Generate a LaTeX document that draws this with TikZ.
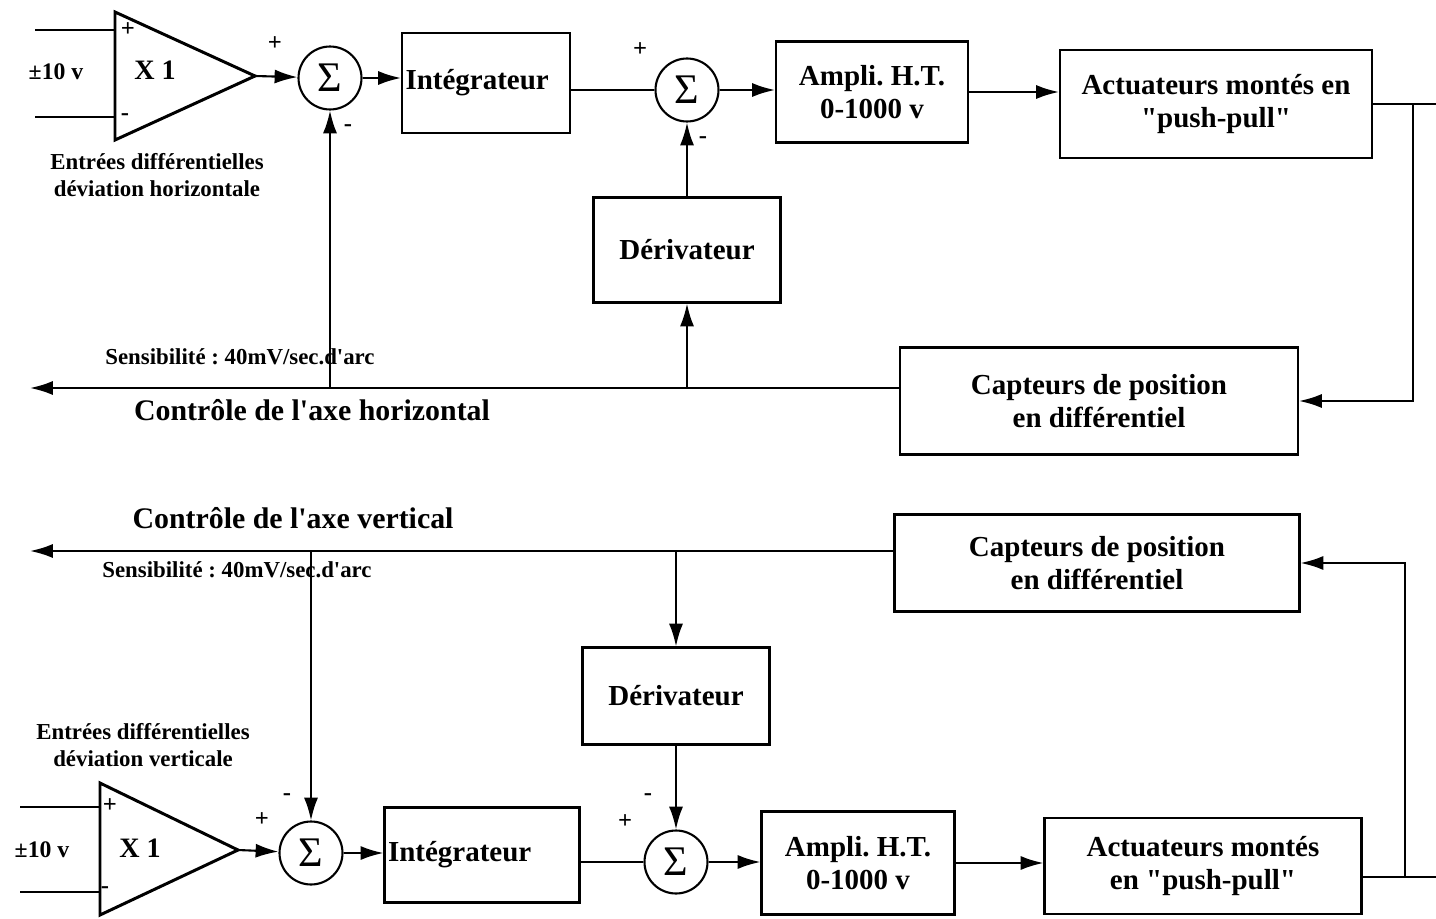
\documentclass[tikz,border=0pt]{standalone}
\usepackage{fontspec}
\setmainfont{Liberation Serif}
\usetikzlibrary{positioning, arrows.meta, calc}
\tikzset{
  block/.style={draw, line width=1.2pt, align=center, inner sep=2pt,
    font=\fontsize{16.5}{18.5}\selectfont\bfseries},
  sumnode/.style={draw, circle, line width=1.2pt, minimum size=1.26cm, inner sep=0pt,
    font=\fontsize{24}{24}\selectfont},
  sig/.style={-{Latex[length=13pt, width=8pt]}, line width=1.2pt},
  wire/.style={line width=1.2pt},
  ampli/.style={line width=1.7pt, line join=miter},
  sgn/.style={font=\fontsize{14}{14}\selectfont\bfseries, inner sep=0pt},
  note/.style={font=\fontsize{13}{15}\selectfont\bfseries, align=center, inner sep=0pt},
  axis/.style={font=\fontsize{17}{19}\selectfont\bfseries, inner sep=0pt},
  gain/.style={font=\fontsize{16}{16}\selectfont\bfseries, inner sep=0pt},
}
\newcommand{\qq}{\textquotedbl}
\newcommand{\ap}{\textquotesingle}
\frenchspacing
\begin{document}
\begin{tikzpicture}[x=0.02cm, y=-0.02cm]
  \useasboundingbox (0,0) rectangle (1436,919);

  % === Horizontal axis: main chain ===
  \coordinate (amp1p) at (115,30);
  \coordinate (amp1n) at (115,117);
  \coordinate (amp1out) at (255,76);
  \coordinate (in1p) at (35,30);
  \coordinate (in1n) at (35,117);
  \draw[ampli] (115,12) -- (amp1out) -- (115,140) -- cycle;
  \node[gain] (gain1) at (155,70) {X 1};
  \node[sgn, font=\fontsize{13.5}{14}\selectfont\bfseries] (v1) at (56,72) {±10 v};

  \node[sumnode] (sum1) at (330,78) {Σ};
  \node[block, minimum width=3.36cm, minimum height=2cm, text width=3.22cm, align=left] (integ1) at (486,83) {Intégrateur};
  \node[sumnode] (sum2) at (687,90) {Σ};
  \node[block, minimum width=3.84cm, minimum height=2.02cm] (ampliht1) at (872,92) {Ampli. H.T.\\0-1000 v};
  \node[block, minimum width=6.24cm, minimum height=2.16cm] (act1) at (1216,104) {Actuateurs montés en\\\qq push-pull\qq};
  \node[block, minimum width=3.74cm, minimum height=2.1cm] (deriv1) at (687,250) {Dérivateur};
  \node[block, minimum width=7.96cm, minimum height=2.14cm] (capt1) at (1099,401) {Capteurs de position\\en différentiel};

  \coordinate (out1) at (1436,104);
  \coordinate (br1) at (1413,104);
  \coordinate (fb1) at (30,388);

  % arrows of the chain
  \draw[wire] (in1p) -- (amp1p);
  \draw[wire] (in1n) -- (amp1n);
  \draw[sig] (amp1out) -- (sum1);
  \draw[sig] (sum1.east) -- (sum1.east -| integ1.west);
  \draw[wire] (integ1.east |- sum2) -- (sum2);
  \draw[sig] (sum2.east) -- (sum2.east -| ampliht1.west);
  \draw[sig] (ampliht1.east) -- (ampliht1.east -| act1.west);
  \draw[wire] (act1.east) -- (out1);
  \draw[sig] (br1) |- (capt1.east);
  \draw[sig] (capt1.west |- fb1) -- (fb1);
  \draw[sig] (sum1 |- fb1) -- (sum1);
  \draw[sig] (deriv1 |- fb1) -- (deriv1);
  \draw[sig] (deriv1) -- (sum2);

  % signs and labels
  \node[sgn] at (128,30) {+};
  \node[sgn] at (125,117) {-};
  \node[sgn] at (275,44) {+};
  \node[sgn] at (348,128) {-};
  \node[sgn] at (640,50) {+};
  \node[sgn] at (703,140) {-};
  \node[note] (in1lbl) at (157,175) {Entrées différentielles\\déviation horizontale};
  \node[note] (sens1) at (240,357) {Sensibilité : 40mV/sec.d\ap arc};
  \node[axis] (axe1) at (312,410) {Contrôle de l\ap axe horizontal};

  % === Vertical axis: main chain ===
  \coordinate (amp2p) at (100,807);
  \coordinate (amp2n) at (100,892);
  \coordinate (amp2out) at (238,850);
  \coordinate (in2p) at (20,807);
  \coordinate (in2n) at (20,892);
  \draw[ampli] (100,783) -- (amp2out) -- (100,915) -- cycle;
  \node[gain] (gain2) at (140,848) {X 1};
  \node[sgn, font=\fontsize{13.5}{14}\selectfont\bfseries] (v2) at (42,850) {±10 v};

  \node[sumnode] (sum3) at (311,853) {Σ};
  \node[block, minimum width=3.9cm, minimum height=1.9cm, text width=3.76cm, align=left] (integ2) at (482,855) {Intégrateur};
  \node[sumnode] (sum4) at (676,862) {Σ};
  \node[block, minimum width=3.86cm, minimum height=2.06cm] (ampliht2) at (858,863) {Ampli. H.T.\\0-1000 v};
  \node[block, minimum width=6.34cm, minimum height=1.92cm] (act2) at (1203,866) {Actuateurs montés\\en \qq push-pull\qq};
  \node[block, minimum width=3.74cm, minimum height=1.94cm] (deriv2) at (676,696) {Dérivateur};
  \node[block, minimum width=8.1cm, minimum height=1.94cm] (capt2) at (1097,563) {Capteurs de position\\en différentiel};

  \coordinate (out2) at (1436,877);
  \coordinate (br2) at (1405,877);
  \coordinate (fb2) at (30,551);

  % arrows of the chain
  \draw[wire] (in2p) -- (amp2p);
  \draw[wire] (in2n) -- (amp2n);
  \draw[sig] (amp2out) -- (sum3);
  \draw[sig] (sum3.east) -- (sum3.east -| integ2.west);
  \draw[wire] (integ2.east |- sum4) -- (sum4);
  \draw[sig] (sum4.east) -- (sum4.east -| ampliht2.west);
  \draw[sig] (ampliht2.east) -- (ampliht2.east -| act2.west);
  \draw[wire] (act2.east |- out2) -- (out2);
  \draw[sig] (br2) |- (capt2.east);
  \draw[sig] (capt2.west |- fb2) -- (fb2);
  \draw[sig] (sum3 |- fb2) -- (sum3);
  \draw[sig] (deriv2 |- fb2) -- (deriv2);
  \draw[sig] (deriv2) -- (sum4);

  % signs and labels
  \node[sgn] at (110,806) {+};
  \node[sgn] at (105,890) {-};
  \node[sgn] at (262,820) {+};
  \node[sgn] at (287,797) {-};
  \node[sgn] at (625,822) {+};
  \node[sgn] at (648,797) {-};
  \node[note] (in2lbl) at (143,745) {Entrées différentielles\\déviation verticale};
  \node[note] (sens2) at (237,570) {Sensibilité : 40mV/sec.d\ap arc};
  \node[axis] (axe2) at (293,518) {Contrôle de l\ap axe vertical};

\end{tikzpicture}
\end{document}
